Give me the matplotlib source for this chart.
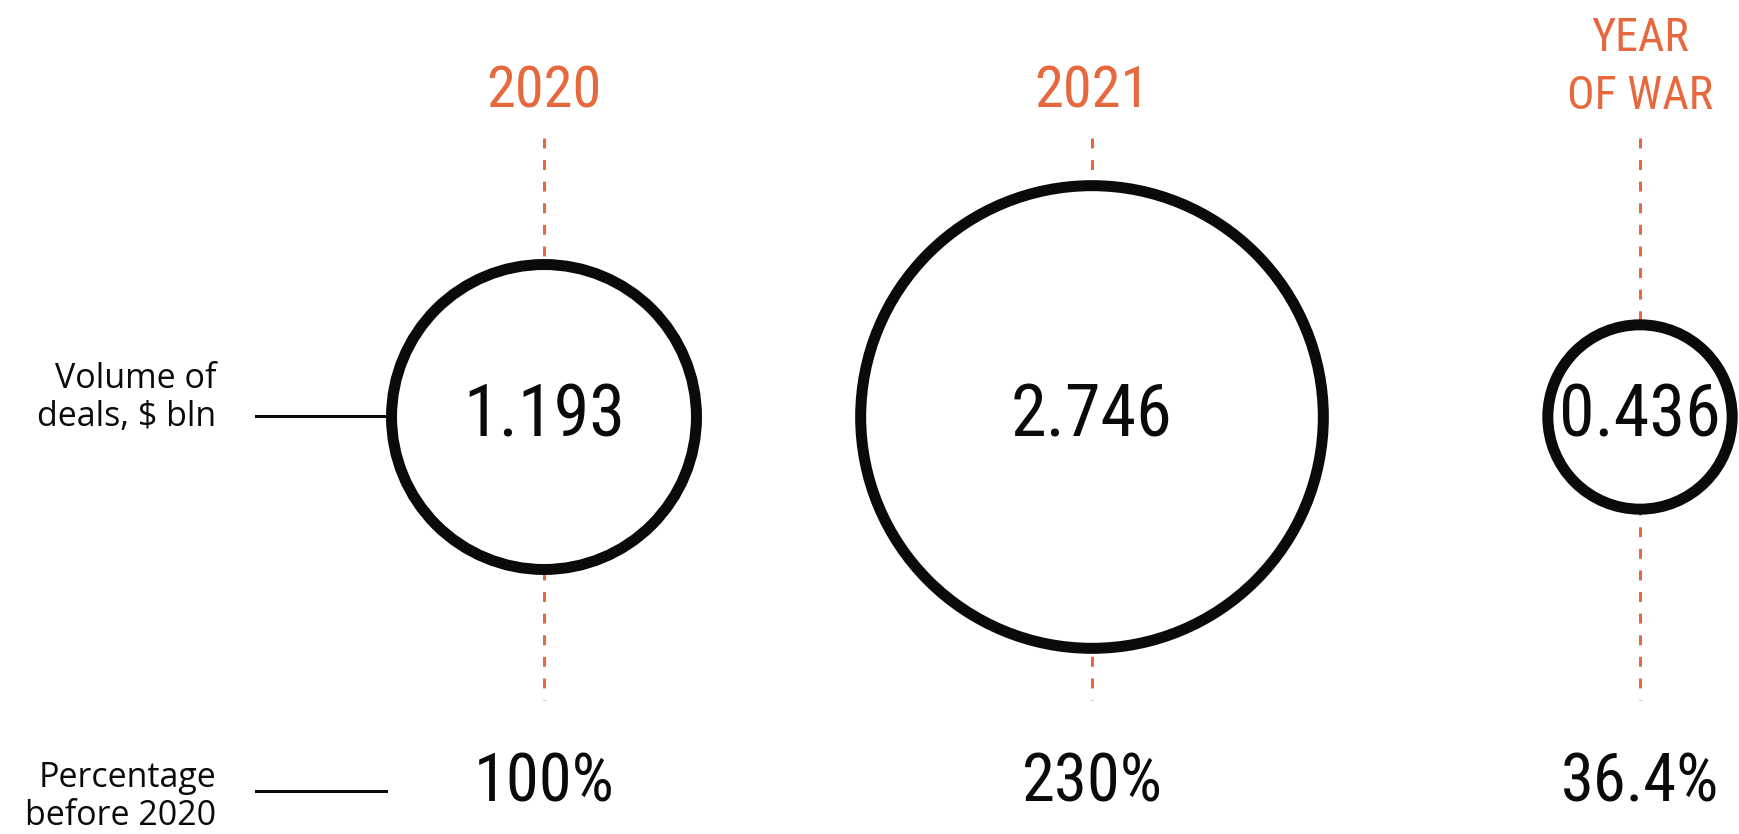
import matplotlib
matplotlib.use("Agg")
import matplotlib.pyplot as plt
from matplotlib.patches import Circle
from matplotlib import font_manager as fm
import numpy as np

# ---- data ----
years = ["2020", "2021", "YEAR\nOF WAR"]
volumes = [1.193, 2.746, 0.436]
volume_labels = ["1.193", "2.746", "0.436"]
percent_labels = ["100%", "230%", "36.4%"]
row_labels = ["Volume of\ndeals, $ bln", "Percentage\nbefore 2020"]

# ---- layout (pixels) ----
W, H = 1740, 834
xs = [544, 1092, 1640]
cy = 417
k = 139.6  # px per sqrt(value)
orange = "#E8683D"
black = "#0a0a0a"

names = {f.name for f in fm.fontManager.ttflist}
cond = None
for cand in ["Roboto Condensed", "Liberation Sans Narrow", "DejaVu Sans Condensed", "Open Sans Condensed"]:
    if cand in names:
        cond = cand
        break
cond_kw = dict(family=cond) if cond else dict(family="DejaVu Sans", stretch="condensed")

fig = plt.figure(figsize=(W / 100, H / 100), dpi=100)
ax = fig.add_axes([0, 0, 1, 1])
ax.set_xlim(0, W)
ax.set_ylim(H, 0)
ax.set_aspect("equal")
ax.axis("off")

px = 72 / 100  # points per pixel

for x, v, vl, pl, yr in zip(xs, volumes, volume_labels, percent_labels, years):
    # dashed guide
    ax.plot([x, x], [138, 700], color=orange, lw=3 * px,
            linestyle=(0, (3.3, 3.9)), zorder=1)
    r = k * np.sqrt(v)
    ax.add_patch(Circle((x, cy), r, facecolor="white", edgecolor=black,
                        lw=11 * px, zorder=2))
    ax.text(x, cy, vl, ha="center", va="center", fontsize=52, color=black,
            zorder=3, **cond_kw)
    ax.text(x, 784, pl, ha="center", va="center", fontsize=48, color=black,
            **cond_kw)
    if "\n" in yr:
        ax.text(x, 67, yr, ha="center", va="center", fontsize=33, color=orange,
                linespacing=1.4, **cond_kw)
    else:
        ax.text(x, 92, yr, ha="center", va="center", fontsize=42, color=orange,
                **cond_kw)

# row labels and connectors
ax.text(216, 398, row_labels[0], ha="right", va="center", fontsize=24.5,
        family="Open Sans", color=black, linespacing=1.15)
ax.plot([256, xs[0] - k * np.sqrt(volumes[0])], [416, 416], color=black,
        lw=3 * px, zorder=1)
ax.text(216, 797, row_labels[1], ha="right", va="center", fontsize=24.5,
        family="Open Sans", color=black, linespacing=1.15)
ax.plot([256, 386], [791, 791], color=black, lw=3 * px)

fig.savefig("out.png", dpi=100, facecolor="white")
